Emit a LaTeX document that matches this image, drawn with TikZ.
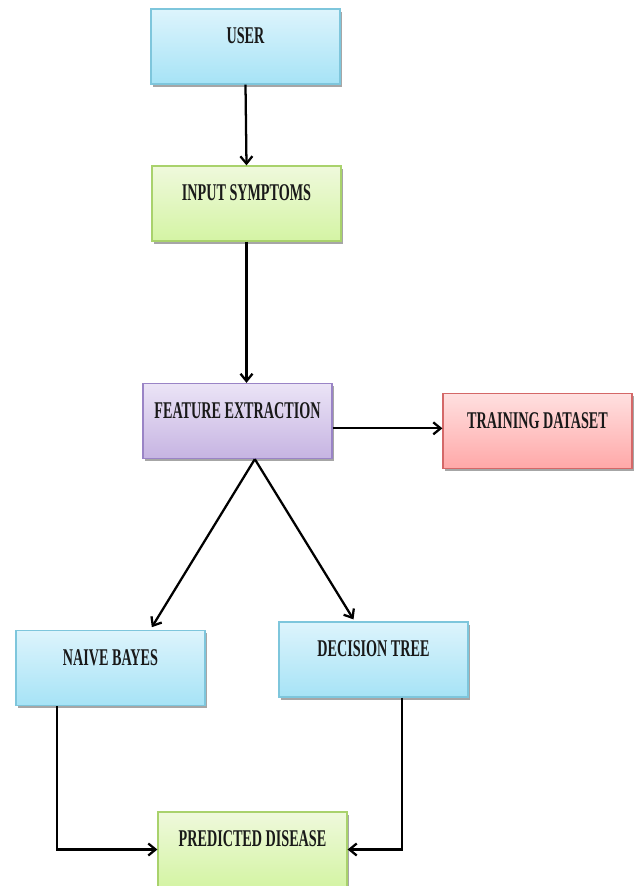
\documentclass[tikz,border=0pt]{standalone}
\usepackage{fontspec}
\setmainfont{Liberation Serif}[FakeStretch=0.59]
\usetikzlibrary{arrows.meta,shadows,calc}
\definecolor{bluetop}{HTML}{DDF4FC}
\definecolor{bluebot}{HTML}{A6E3F6}
\definecolor{blueline}{HTML}{7EC6DC}
\definecolor{greentop}{HTML}{EFF9DC}
\definecolor{greenbot}{HTML}{D4F4A4}
\definecolor{greenline}{HTML}{A9D26C}
\definecolor{purptop}{HTML}{EBE4F6}
\definecolor{purpbot}{HTML}{C6B4E2}
\definecolor{purpline}{HTML}{9A84C6}
\definecolor{redtop}{HTML}{FFE0E0}
\definecolor{redbot}{HTML}{FFA8A8}
\definecolor{redline}{HTML}{D46868}
\tikzset{
  box/.style={rectangle, minimum width=141.75pt, inner xsep=0pt, inner ysep=0pt,
    text height=26.2pt, text depth=30.1pt, line width=0.9pt, text=black!90,
    font=\fontsize{18}{21}\selectfont\bfseries,
    drop shadow={shadow xshift=1.5pt, shadow yshift=-2pt, opacity=0.35, fill=black}},
  bluebox/.style={box, draw=blueline, top color=bluetop, bottom color=bluebot},
  greenbox/.style={box, draw=greenline, top color=greentop, bottom color=greenbot},
  purpbox/.style={box, draw=purpline, top color=purptop, bottom color=purpbot},
  redbox/.style={box, draw=redline, top color=redtop, bottom color=redbot},
  arr/.style={line width=1.7pt, -{Straight Barb[length=5.5pt,width=9pt,line width=1.7pt]}}
}
\begin{document}
\begin{tikzpicture}[x=0.75pt,y=-0.75pt]
\useasboundingbox (0,0) rectangle (637,886);
\node[bluebox] (user) at (245.5,46.5) {USER};
\node[greenbox] (input) at (246.5,203.5) {INPUT SYMPTOMS};
\node[purpbox] (fe) at (237.5,421) {FEATURE EXTRACTION};
\node[redbox] (td) at (537.5,431) {TRAINING DATASET};
\node[bluebox] (nb) at (110.5,668) {NAIVE BAYES};
\node[bluebox] (dt) at (373.5,659.5) {DECISION TREE};
\node[greenbox] (pd) at (252.5,849.5) {PREDICTED DISEASE};
\coordinate (fb) at ([xshift=13pt]fe.south);
\coordinate (nbin) at ([xshift=31pt,yshift=2pt]nb.north);
\coordinate (dtin) at ([xshift=-15pt,yshift=1.5pt]dt.north);
\coordinate (nbout) at ([xshift=-40pt]nb.south);
\coordinate (dtout) at ([xshift=21.5pt]dt.south);
\draw[arr] (user.south) -- (input.north);
\draw[arr] (input.south) -- (input.south |- fe.north);
\draw[arr] ([yshift=2pt]td.west -| fe.east) -- ([yshift=2pt]td.west);
\draw[arr] (fb) -- (nbin);
\draw[arr] (fb) -- (dtin);
\draw[arr] (nbout) |- (pd.west);
\draw[arr] (dtout) |- (pd.east);
\end{tikzpicture}
\end{document}
